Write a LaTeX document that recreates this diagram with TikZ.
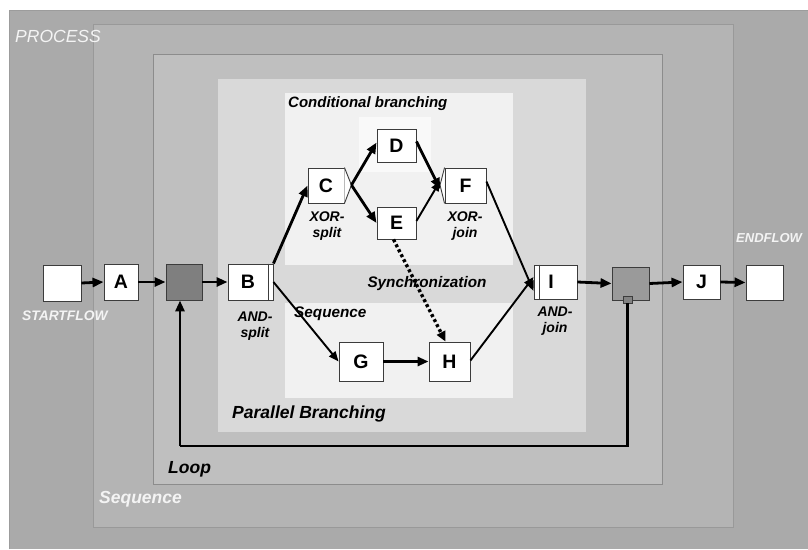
\documentclass[tikz,border=0pt]{standalone}
\usepackage{fontspec}
\setmainfont{Liberation Sans}
\usetikzlibrary{arrows.meta}
\definecolor{cProc}{HTML}{AAAAAA}
\definecolor{cProcLine}{HTML}{9C9C9C}
\definecolor{cSeq}{HTML}{B4B4B4}
\definecolor{cSeqLine}{HTML}{999999}
\definecolor{cLoop}{HTML}{BFBFBF}
\definecolor{cLoopLine}{HTML}{8C8C8C}
\definecolor{cPar}{HTML}{D9D9D9}
\definecolor{cCond}{HTML}{F1F1F1}
\definecolor{cInner}{HTML}{F9F9F9}
\definecolor{cDark}{HTML}{7F7F7F}
\definecolor{cMid}{HTML}{9A9A9A}
\definecolor{cEdge}{HTML}{3C3C3C}
\definecolor{cWhiteTxt}{HTML}{F4F4F4}
\tikzset{
  task/.style={draw=cEdge, fill=white, line width=0.9pt, inner sep=0pt,
    font=\fontsize{19.5}{21}\selectfont\bfseries},
  grey/.style={task, fill=#1},
  thickarr/.style={line width=2.8pt, -{Triangle[length=11pt,width=9pt]}},
  thinarr/.style={line width=1.9pt, -{Triangle[length=10pt,width=8pt]}},
  dotarr/.style={line width=3.4pt, dash pattern=on 3pt off 2.6pt, -{Triangle[length=10pt,width=9pt]}},
  lbl/.style={inner sep=0pt, anchor=base west},
  biglbl/.style={lbl, font=\fontsize{17.5}{20}\selectfont\bfseries\itshape},
  midlbl/.style={lbl, font=\fontsize{15.3}{18}\selectfont\bfseries\itshape},
  sublbl/.style={inner sep=0pt, anchor=north, align=center,
    font=\fontsize{14}{16}\selectfont\bfseries\itshape},
}
\begin{document}
\begin{tikzpicture}[x=1pt,y=-1pt]
\useasboundingbox (0,0) rectangle (808,549);
% nested regions
\fill[cProc] (9,10) rectangle (808,549);
\draw[cProcLine, line width=1pt] (9,549) -- (9,10) -- (808,10);
\filldraw[fill=cSeq, draw=cSeqLine, line width=1pt] (93,24) rectangle (733,527);
\filldraw[fill=cLoop, draw=cLoopLine, line width=0.8pt] (153,54) rectangle (662,484);
\fill[cPar] (218,79) rectangle (586,432);
\fill[cCond] (285,93) rectangle (513,265);
\fill[cCond] (285,303) rectangle (513,398);
\fill[cInner] (359,117) rectangle (431,172);

% region labels
\node[biglbl, text=cWhiteTxt, font=\fontsize{17.5}{20}\selectfont\itshape] (lproc) at (15,42) {PROCESS};
\node[biglbl, text=cWhiteTxt] (lseq) at (99,503) {Sequence};
\node[biglbl] (lloop) at (168,473) {Loop};
\node[biglbl] (lpar) at (232,418) {Parallel Branching};
\node[midlbl, font=\fontsize{15}{18}\selectfont\bfseries\itshape] (lcond) at (288,107) {Conditional branching};
\node[midlbl, anchor=base] (lsync) at (427,287) {Synchronization};
\node[midlbl] (lseq2) at (294,317) {Sequence};
\node[lbl, text=cWhiteTxt, font=\fontsize{13.8}{16}\selectfont\bfseries\itshape] (lstart) at (22,320) {STARTFLOW};
\node[lbl, text=cWhiteTxt, font=\fontsize{13}{16}\selectfont\bfseries\itshape] (lend) at (736,242) {ENDFLOW};

% tasks
\node[task, minimum width=38pt, minimum height=36pt] (S) at (62,283) {};
\node[task, minimum width=34pt, minimum height=36pt] (A) at (121,282) {A};
\node[grey=cDark, minimum width=36pt, minimum height=36pt] (G1) at (184,282) {};
\node[task, minimum width=45pt, minimum height=36pt] (B) at (250.5,282) {B\kern5pt};
\draw[cEdge, line width=0.9pt] ([xshift=-5pt]B.north east) -- ([xshift=-5pt]B.south east);
\node[task, minimum width=36pt, minimum height=35pt] (C) at (326,185.5) {C};
\filldraw[fill=white, draw=cEdge, line width=0.9pt] (C.north east) -- ++(7,17.5) coordinate (Ctip) -- (C.south east);
\node[task, minimum width=39pt, minimum height=33pt] (D) at (396.5,145.5) {D};
\node[task, minimum width=39pt, minimum height=32pt] (E) at (396.5,223) {E};
\node[task, minimum width=41pt, minimum height=35pt] (F) at (465.5,185.5) {F};
\filldraw[fill=white, draw=cEdge, line width=0.9pt] (F.north west) -- ++(-4.5,17.5) coordinate (Ftip) -- (F.south west);
\node[task, minimum width=44pt, minimum height=39pt] (G) at (361,361.5) {G};
\node[task, minimum width=41pt, minimum height=39pt] (H) at (449.5,361.5) {H};
\node[task, minimum width=43pt, minimum height=34pt] (I) at (555.5,282) {I\kern9pt};
\draw[cEdge, line width=0.9pt] ([xshift=6pt]I.north west) -- ([xshift=6pt]I.south west);
\node[grey=cMid, minimum width=37pt, minimum height=33pt] (G2) at (630.5,283.5) {};
\node[task, fill=cMid!85!black, minimum width=9pt, minimum height=7pt, line width=0.6pt] (LS) at (627.5,299.5) {};
\node[task, minimum width=37pt, minimum height=34pt] (J) at (701.5,282) {J};
\node[task, minimum width=37pt, minimum height=35pt] (E2) at (764.5,282.5) {};

% split / join labels
\node[sublbl] (lands) at (255,312) {AND-\\split};
\node[sublbl] (lxors) at (327,212) {XOR-\\split};
\node[sublbl] (lxorj) at (465,212) {XOR-\\join};
\node[sublbl] (landj) at (555,307) {AND-\\join};

% main flow
\draw[thickarr] (S.east) -- (A.west);
\draw[thickarr] (A.east) -- (G1.west);
\draw[thickarr] (G1.east) -- (B.west);
\draw[thickarr] (I.east) -- (G2.west);
\draw[thickarr] (G2.east) -- (J.west);
\draw[thickarr] (J.east) -- (E2.west);

% branches
\draw[thickarr] (B.north east) -- (C.west);
\draw[thickarr] (Ctip) -- ([yshift=3pt]D.west);
\draw[thickarr] (Ctip) -- (E.west);
\draw[thickarr] ([yshift=4pt]D.east) -- ([yshift=-4pt]Ftip);
\draw[thinarr] ([yshift=2pt]E.east) -- ([yshift=4pt]Ftip);
\draw[thinarr] ([yshift=4pt]F.east) -- ([yshift=-9pt]I.west);
\draw[thinarr] (B.east) -- (G.west);
\draw[thickarr] (G.east) -- (H.west);
\draw[thinarr] ([yshift=1pt]H.east) -- ([yshift=5pt]I.west);
\draw[dotarr] ([xshift=-3pt]E.south) -- ([xshift=-4pt]H.north);

% loop
\coordinate (lc) at (180,446);
\draw[line width=2.8pt] (LS.south) -- (LS.south |- lc) -- (lc);
\draw[thickarr] (lc) -- (lc |- G1.south);
\end{tikzpicture}
\end{document}
